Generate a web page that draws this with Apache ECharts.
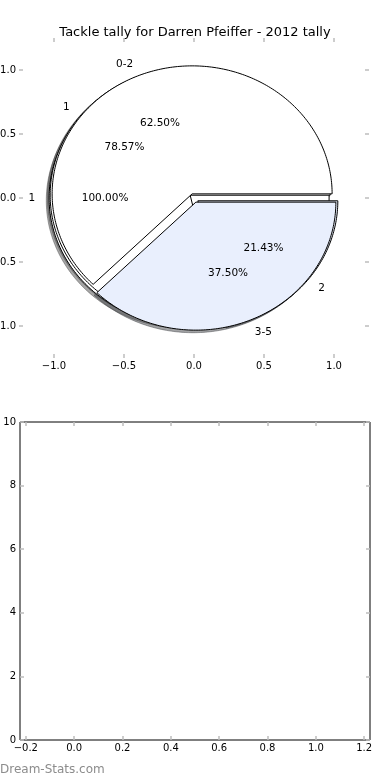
<!DOCTYPE html>
<html><head><meta charset="utf-8">
<script src="https://cdn.jsdelivr.net/npm/echarts@6/dist/echarts.min.js"></script>
<style>html,body{margin:0;padding:0;background:#fff}#c{width:390px;height:780px}</style>
</head><body><div id="c"></div>
<script>
// ---- data ----
const titleText = 'Tackle tally for Darren Pfeiffer - 2012 tally';
const pieOuterLabels = ['1'];
const pieOuterValues = [1];
const pieMiddleLabels = ['1', '2'];
const pieMiddleValues = [11, 3];
const pieTopLabels = ['0-2', '3-5'];
const pieTopValues = [5, 3];
const sliceColors = ['#ffffff', '#e9effd'];
const topTicks = [-1.0, -0.5, 0.0, 0.5, 1.0];
const bottomXTicks = [-0.2, 0.0, 0.2, 0.4, 0.6, 0.8, 1.0, 1.2];
const bottomYTicks = [0, 2, 4, 6, 8, 10];
const watermarkText = 'Dream-Stats.com';

// ---- geometry helpers ----
const EXPLODE = 0.035, SHADOW_OFF = -0.02, LABEL_D = 1.1, PCT_D = 0.6;
const pies = [[pieOuterLabels, pieOuterValues], [pieMiddleLabels, pieMiddleValues], [pieTopLabels, pieTopValues]];
const wedges = [];
pies.forEach(([labels, vals], p) => {
  const total = vals.reduce((a, b) => a + b, 0);
  let cum = 0;
  vals.forEach((v, i) => {
    const f = v / total;
    const t1 = 360 * cum, t2 = 360 * (cum + f);
    cum += f;
    const mid = (t1 + t2) / 2 * Math.PI / 180;
    wedges.push({
      label: labels[i], pct: (f * 100).toFixed(2) + '%', t1, t2, mid,
      cx: EXPLODE * Math.cos(mid), cy: EXPLODE * Math.sin(mid), color: sliceColors[i]
    });
  });
});
function shadowColor(hex) {
  const r = parseInt(hex.slice(1, 3), 16), g = parseInt(hex.slice(3, 5), 16), b = parseInt(hex.slice(5, 7), 16);
  return 'rgba(' + Math.round(r * 0.3) + ',' + Math.round(g * 0.3) + ',' + Math.round(b * 0.3) + ',0.5)';
}
function wedgePts(api, w, dx, dy) {
  const pts = [];
  const full = (w.t2 - w.t1) >= 359.999;
  if (!full) pts.push(api.coord([w.cx + dx, w.cy + dy]));
  const n = Math.max(16, Math.ceil(w.t2 - w.t1));
  for (let k = 0; k <= n; k++) {
    const a = (w.t1 + (w.t2 - w.t1) * k / n) * Math.PI / 180;
    pts.push(api.coord([w.cx + dx + Math.cos(a), w.cy + dy + Math.sin(a)]));
  }
  return pts;
}
function fmt1(v) { return (v < 0 ? '\u2212' : '') + Math.abs(v).toFixed(1); }
const FONT = 'DejaVu Sans';
const tickStyle = (vals) => ({ show: true, inside: true, length: 4, customValues: vals, lineStyle: { color: '#bdbdbd', width: 1.5 } });
const lbl = (vals, fmt, margin) => ({ show: true, customValues: vals, formatter: fmt, margin: margin, fontSize: 10, color: '#000', fontFamily: FONT, hideOverlap: false });
const noLbl = { show: false };
const noLine = { show: false, onZero: false };

const chart = echarts.init(document.getElementById('c'), null, { renderer: 'canvas' });
chart.setOption({
  animation: false,
  backgroundColor: '#fff',
  title: { text: titleText, left: 'center', top: 21, textStyle: { fontSize: 13, fontWeight: 'normal', color: '#000', fontFamily: FONT } },
  grid: [
    { left: 19, top: 38, width: 350, height: 320, show: false, containLabel: false, outerBoundsMode: 'none' },
    { left: 20, top: 422, width: 350, height: 318, show: true, borderColor: '#000', borderWidth: 1, containLabel: false, outerBoundsMode: 'none' }
  ],
  xAxis: [
    { gridIndex: 0, type: 'value', min: -1.25, max: 1.25, position: 'bottom', axisLine: noLine, splitLine: { show: false }, axisTick: tickStyle(topTicks), axisLabel: lbl(topTicks, fmt1, 3) },
    { gridIndex: 0, type: 'value', min: -1.25, max: 1.25, position: 'top', axisLine: noLine, splitLine: { show: false }, axisTick: tickStyle(topTicks), axisLabel: noLbl },
    { gridIndex: 1, type: 'value', min: -0.224, max: 1.224, position: 'bottom', axisLine: noLine, splitLine: { show: false }, axisTick: tickStyle(bottomXTicks), axisLabel: lbl(bottomXTicks, fmt1, 3) },
    { gridIndex: 1, type: 'value', min: -0.224, max: 1.224, position: 'top', axisLine: noLine, splitLine: { show: false }, axisTick: tickStyle(bottomXTicks), axisLabel: noLbl }
  ],
  yAxis: [
    { gridIndex: 0, type: 'value', min: -1.25, max: 1.25, position: 'left', axisLine: noLine, splitLine: { show: false }, axisTick: tickStyle(topTicks), axisLabel: lbl(topTicks, fmt1, 3) },
    { gridIndex: 0, type: 'value', min: -1.25, max: 1.25, position: 'right', axisLine: noLine, splitLine: { show: false }, axisTick: tickStyle(topTicks), axisLabel: noLbl },
    { gridIndex: 1, type: 'value', min: 0, max: 10, position: 'left', axisLine: noLine, splitLine: { show: false }, axisTick: tickStyle(bottomYTicks), axisLabel: lbl(bottomYTicks, v => String(v), 4) },
    { gridIndex: 1, type: 'value', min: 0, max: 10, position: 'right', axisLine: noLine, splitLine: { show: false }, axisTick: tickStyle(bottomYTicks), axisLabel: noLbl }
  ],
  series: [
    {
      type: 'custom', name: 'shadows', xAxisIndex: 0, yAxisIndex: 0, z: 2, clip: false,
      data: wedges.map(w => [w.cx, w.cy]),
      renderItem: (params, api) => {
        const w = wedges[params.dataIndex];
        const c = shadowColor(w.color);
        return { type: 'polygon', shape: { points: wedgePts(api, w, SHADOW_OFF, SHADOW_OFF) }, style: { fill: c, stroke: c, lineWidth: 1 } };
      }
    },
    {
      type: 'custom', name: 'wedges', xAxisIndex: 0, yAxisIndex: 0, z: 3, clip: false,
      data: wedges.map(w => [w.cx, w.cy]),
      renderItem: (params, api) => {
        const w = wedges[params.dataIndex];
        return { type: 'polygon', shape: { points: wedgePts(api, w, 0, 0) }, style: { fill: w.color, stroke: '#000', lineWidth: 1 } };
      }
    },
    {
      type: 'custom', name: 'labels', xAxisIndex: 0, yAxisIndex: 0, z: 4, clip: false,
      data: wedges.map(w => [w.cx, w.cy]),
      renderItem: (params, api) => {
        const w = wedges[params.dataIndex];
        const lx = w.cx + LABEL_D * Math.cos(w.mid), ly = w.cy + LABEL_D * Math.sin(w.mid);
        const px = w.cx + PCT_D * Math.cos(w.mid), py = w.cy + PCT_D * Math.sin(w.mid);
        const lp = api.coord([lx, ly]), pp = api.coord([px, py]);
        return {
          type: 'group', children: [
            { type: 'text', x: lp[0], y: lp[1], style: { text: w.label, fill: '#000', fontSize: 10.5, fontFamily: FONT, align: lx > 0 ? 'left' : 'right', verticalAlign: 'middle' } },
            { type: 'text', x: pp[0], y: pp[1], style: { text: w.pct, fill: '#000', fontSize: 10.5, fontFamily: FONT, align: 'center', verticalAlign: 'middle' } }
          ]
        };
      }
    }
  ],
  graphic: [
    { type: 'text', left: 0, top: 764, style: { text: watermarkText, fontSize: 12, fill: '#8c8c8c', fontFamily: FONT } }
  ]
});
</script>
</body></html>
